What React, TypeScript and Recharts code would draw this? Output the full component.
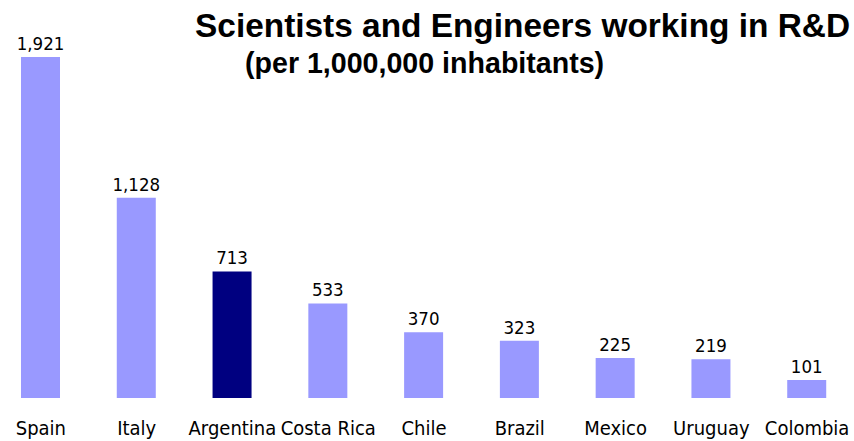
import { BarChart, Bar, XAxis, YAxis, Cell, LabelList } from 'recharts';

// R&D researchers per million inhabitants
const countries = ['Spain', 'Italy', 'Argentina', 'Costa Rica', 'Chile', 'Brazil', 'Mexico', 'Uruguay', 'Colombia'];
const researchers = [1921, 1128, 713, 533, 370, 323, 225, 219, 101];
const highlighted = 'Argentina';

const data = countries.map((country, i) => ({ country, value: researchers[i] }));

const FONT = '"Liberation Sans", Arial, sans-serif';
const LABEL_FONT = '"DejaVu Sans Condensed", "Liberation Sans", sans-serif';

const CountryTick = ({ x, y, payload }: { x?: number; y?: number; payload?: { value: string } }) => (
  <text x={x} y={y} dy={29} textAnchor="middle" fontFamily={LABEL_FONT} fontSize={20} fill="#000">
    {payload?.value}
  </text>
);

export default function App() {
  return (
    <div style={{ position: 'absolute', left: -7, top: 0, width: 862, height: 441, background: '#fff' }}>
      <BarChart width={862} height={441} data={data} margin={{ top: 43, right: 0, bottom: 0, left: 0 }}>
        <XAxis dataKey="country" axisLine={false} tickLine={false} height={43} interval={0} tick={<CountryTick />} />
        <YAxis hide domain={[0, 2000]} />
        <Bar dataKey="value" barSize={39} isAnimationActive={false}>
          {data.map((d) => (
            <Cell key={d.country} fill={d.country === highlighted ? '#000080' : '#9999FF'} />
          ))}
          <LabelList
            dataKey="value"
            position="top"
            offset={7}
            formatter={(v: number) => v.toLocaleString('en-US')}
            style={{ fontFamily: LABEL_FONT, fontSize: 18.5, fill: '#000' }}
          />
        </Bar>
      </BarChart>
      <svg width={862} height={441} style={{ position: 'absolute', left: 0, top: 0, pointerEvents: 'none' }}>
        <text x={857} y={37} textAnchor="end" fontFamily={FONT} fontWeight="bold" fontSize={33.4} fill="#000">
          Scientists and Engineers working in R&amp;D
        </text>
        <text x={252} y={73} fontFamily={FONT} fontWeight="bold" fontSize={28.6} fill="#000">
          (per 1,000,000 inhabitants)
        </text>
      </svg>
    </div>
  );
}
